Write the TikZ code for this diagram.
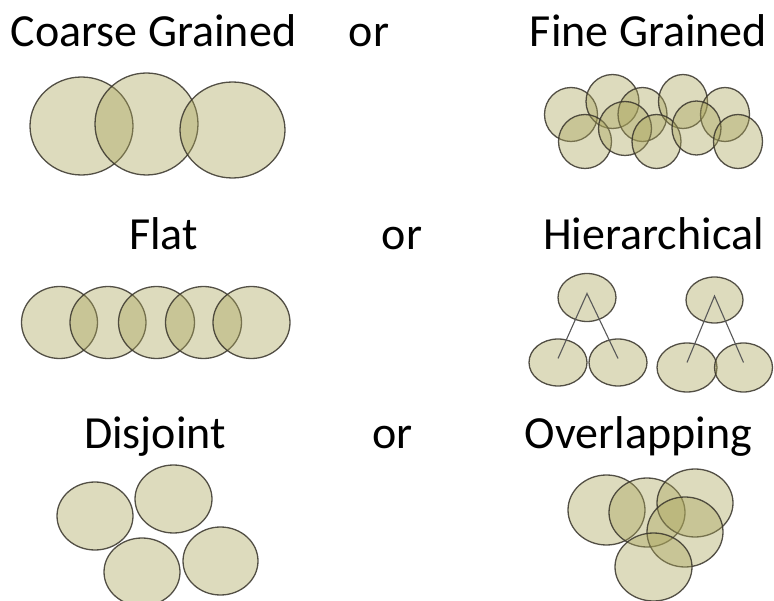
\documentclass[tikz,border=0pt]{standalone}
\usepackage{fontspec}
\setmainfont{Carlito}
\usepackage{tikz}
\usetikzlibrary{shapes,positioning,calc}

\begin{document}
\begin{tikzpicture}[
    x=1pt, y=-1pt,
    font=\fontsize{46}{55}\selectfont,
    caption/.style={anchor=base, inner sep=0pt},
    blob/.style={
      ellipse,
      draw=black!80!olive,
      draw opacity=0.85,
      line width=1.3pt,
      fill=olive!55!white!85!black,
      fill opacity=0.4,
      inner sep=0pt,
    },
    branch/.style={draw=black!65, line width=1.1pt},
  ]
    \useasboundingbox (0,0) rectangle (774,601);

    % row labels
    \node[caption] (CoarseText) at (153.5,47) {Coarse Grained};
    \node[caption] (OrOne) at (369,47) {or};
    \node[caption] (FineText) at (648.5,47) {Fine Grained};
    \node[caption] (FlatText) at (163.5,250) {Flat};
    \node[caption] (OrTwo) at (402,250) {or};
    \node[caption] (HierText) at (653.5,250) {Hierarchical};
    \node[caption] (DisjText) at (155,449) {Disjoint};
    \node[caption] (OrThree) at (392.5,449) {or};
    \node[caption] (OverText) at (638.5,449) {Overlapping};

    % coarse grained
    \node[blob, minimum width=103pt, minimum height=98pt] (CoarseA) at (81.5,126) {};
    \node[blob, minimum width=103pt, minimum height=102pt] (CoarseB) at (146.5,124) {};
    \node[blob, minimum width=105pt, minimum height=96pt] (CoarseC) at (232.5,130) {};

    % fine grained
    \node[blob, minimum width=53pt, minimum height=54pt] (FineA) at (571,114.5) {};
    \node[blob, minimum width=53pt, minimum height=54pt] (FineB) at (612.5,101.5) {};
    \node[blob, minimum width=49pt, minimum height=54pt] (FineC) at (642.5,114.5) {};
    \node[blob, minimum width=49pt, minimum height=54pt] (FineD) at (683,101.5) {};
    \node[blob, minimum width=49pt, minimum height=54pt] (FineE) at (725,114.5) {};
    \node[blob, minimum width=53pt, minimum height=54pt] (FineF) at (585,141.5) {};
    \node[blob, minimum width=53pt, minimum height=54pt] (FineG) at (625,128.5) {};
    \node[blob, minimum width=49pt, minimum height=54pt] (FineH) at (656.5,141.5) {};
    \node[blob, minimum width=49pt, minimum height=54pt] (FineI) at (696.5,128) {};
    \node[blob, minimum width=49pt, minimum height=54pt] (FineJ) at (738,141.5) {};

    % flat
    \node[blob, minimum width=76pt, minimum height=72pt] (FlatA) at (59.5,322.5) {};
    \node[blob, minimum width=76pt, minimum height=72pt] (FlatB) at (108,322.5) {};
    \node[blob, minimum width=76pt, minimum height=72pt] (FlatC) at (156.5,322.5) {};
    \node[blob, minimum width=76pt, minimum height=72pt] (FlatD) at (203.5,322.5) {};
    \node[blob, minimum width=77pt, minimum height=72pt] (FlatE) at (251.5,322.5) {};

    % hierarchical
    \node[blob, minimum width=58pt, minimum height=48pt] (TopA) at (587,297.5) {};
    \node[blob, minimum width=58pt, minimum height=47pt] (LeftA) at (558,362.5) {};
    \node[blob, minimum width=58pt, minimum height=47pt] (RightA) at (618,362.5) {};
    \node[blob, minimum width=57pt, minimum height=46pt] (TopB) at (714.5,300) {};
    \node[blob, minimum width=60pt, minimum height=49pt] (LeftB) at (687,367.5) {};
    \node[blob, minimum width=58pt, minimum height=49pt] (RightB) at (743.5,367.5) {};
    \draw[branch] ($(LeftA.center)+(0,-4)$) -- ($(TopA.center)+(0,-4)$) -- ($(RightA.center)+(0,-4)$);
    \draw[branch] ($(LeftB.center)+(0,-5)$) -- ($(TopB.center)+(0,-4)$) -- ($(RightB.center)+(0,-5)$);

    % disjoint
    \node[blob, minimum width=76pt, minimum height=68pt] (DisjA) at (95,516) {};
    \node[blob, minimum width=77pt, minimum height=68pt] (DisjB) at (173.5,499) {};
    \node[blob, minimum width=76pt, minimum height=68pt] (DisjC) at (142,572) {};
    \node[blob, minimum width=75pt, minimum height=68pt] (DisjD) at (220.5,561) {};

    % overlapping
    \node[blob, minimum width=77pt, minimum height=70pt] (OverA) at (606.5,510) {};
    \node[blob, minimum width=76pt, minimum height=69pt] (OverB) at (647,512.5) {};
    \node[blob, minimum width=76pt, minimum height=68pt] (OverC) at (695,503) {};
    \node[blob, minimum width=76pt, minimum height=70pt] (OverD) at (685,532) {};
    \node[blob, minimum width=77pt, minimum height=68pt] (OverE) at (653.5,567) {};
  \end{tikzpicture}
\end{document}
